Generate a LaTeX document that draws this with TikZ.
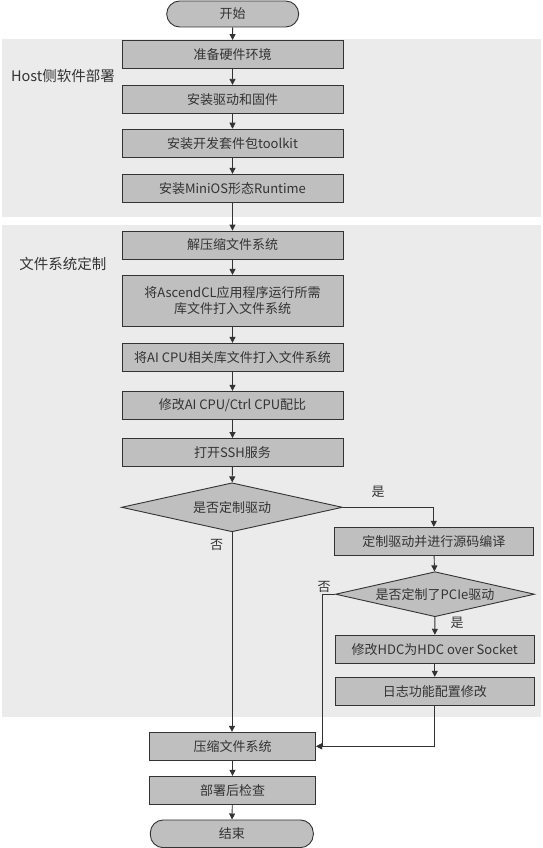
\documentclass[tikz,border=0pt]{standalone}
\usepackage{fontspec}
\setmainfont{Noto Sans CJK SC}
\usetikzlibrary{shapes.geometric,arrows.meta}
\definecolor{boxfill}{HTML}{BFBFBF}
\definecolor{bandfill}{HTML}{EBEBEB}
\definecolor{linec}{HTML}{333333}
\definecolor{textc}{HTML}{333333}
\tikzset{
  stepbox/.style={draw=linec, fill=boxfill, line width=0.9pt, inner sep=0pt,
    minimum width=221pt, minimum height=28pt, align=center, text=textc,
    font=\fontsize{13}{16}\selectfont},
  termbox/.style={stepbox, rounded corners=13pt},
  decbox/.style={draw=linec, fill=boxfill, line width=0.9pt, shape=diamond, inner sep=0pt},
  dectext/.style={text=textc, font=\fontsize{13}{15}\selectfont, inner sep=0pt},
  band/.style={fill=bandfill, draw=none},
  bandlabel/.style={text=textc, font=\fontsize{14.5}{17}\selectfont, inner sep=0pt},
  flowlabel/.style={text=textc, font=\fontsize{13}{15}\selectfont, inner sep=0pt},
  conn/.style={draw=linec, line width=0.9pt, -{Triangle[length=6pt,width=6pt]}},
}
\begin{document}
\begin{tikzpicture}[x=1pt,y=-1pt]
\useasboundingbox (0,0) rectangle (542,848);
\fill[white] (0,0) rectangle (542,848);
% bands
\path[band] (1.5,39.3) rectangle (541,217.3);
\path[band] (1.5,225) rectangle (541,716.7);
\node[bandlabel] (lhost) at (63,76) {Host侧软件部署};
\node[bandlabel] (lfs) at (63,263.5) {文件系统定制};
% nodes
\node[termbox, minimum width=132pt, minimum height=26pt] (start) at (232.7,14) {开始};
\node[stepbox] (b1) at (232.5,54.5) {准备硬件环境};
\node[stepbox] (b2) at (232.5,99.3) {安装驱动和固件};
\node[stepbox] (b3) at (232.5,143.2) {安装开发套件包toolkit};
\node[stepbox] (b4) at (232.5,188.3) {安装MiniOS形态Runtime};
\node[stepbox] (b5) at (232.5,245) {解压缩文件系统};
\node[stepbox, minimum height=50.7pt] (b6) at (232.5,300.7) {将AscendCL应用程序运行所需\\库文件打入文件系统};
\node[stepbox] (b7) at (232.5,357.3) {将AI CPU相关库文件打入文件系统};
\node[stepbox] (b8) at (232.5,405.3) {修改AI CPU/Ctrl CPU配比};
\node[stepbox] (b9) at (232.5,452.5) {打开SSH服务};
\node[decbox, minimum width=221pt, minimum height=49pt] (d1) at (232,507.3) {};
\node[dectext] (d1t) at (d1.center) {是否定制驱动};
\node[stepbox, minimum width=199pt] (b10) at (433.8,541.3) {定制驱动并进行源码编译};
\node[decbox, minimum width=199pt, minimum height=45pt] (d2) at (435,594.2) {};
\node[dectext] (d2t) at (d2.center) {是否定制了PCIe驱动};
\node[stepbox, minimum width=199pt] (b11) at (434.8,649.2) {修改HDC为HDC over Socket};
\node[stepbox, minimum width=199pt] (b12) at (434.8,691.3) {日志功能配置修改};
\node[stepbox, minimum width=166.4pt] (b13) at (232.5,746.3) {压缩文件系统};
\node[stepbox, minimum width=166.4pt] (b14) at (232.5,790.3) {部署后检查};
\node[termbox, minimum width=163pt, minimum height=27.7pt] (end) at (231.8,833.8) {结束};
% labels
\node[flowlabel] (lyes1) at (378,492) {是};
\node[flowlabel] (lno1) at (216.7,545) {否};
\node[flowlabel] (lno2) at (324,586.7) {否};
\node[flowlabel] (lyes2) at (457,622.7) {是};
% connectors
\draw[conn] (start) -- (b1);
\draw[conn] (b1) -- (b2);
\draw[conn] (b2) -- (b3);
\draw[conn] (b3) -- (b4);
\draw[conn] (b4) -- (b5);
\draw[conn] (b5) -- (b6);
\draw[conn] (b6) -- (b7);
\draw[conn] (b7) -- (b8);
\draw[conn] (b8) -- (b9);
\draw[conn] (b9) -- (d1);
\draw[conn] (d1.south) -- (b13.north -| d1.south);
\draw[conn] (d1.east) -| (b10.north);
\draw[conn] (b10) -- (d2);
\draw[conn] (d2) -- (b11);
\draw[conn] (b11) -- (b12);
\draw[conn] (b12.south) |- (b13.east);
\coordinate (nobend) at (322.7,594.2);
\draw[conn] (d2.west) -- (nobend) |- (b13.east);
\draw[conn] (b13) -- (b14);
\draw[conn] (b14) -- (end);
\end{tikzpicture}
\end{document}
